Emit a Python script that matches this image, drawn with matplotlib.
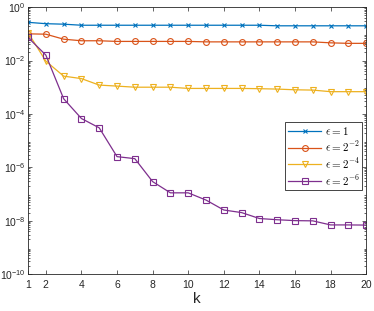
import matplotlib
matplotlib.use("Agg")
import matplotlib.pyplot as plt
import numpy as np
from matplotlib.ticker import FixedLocator, FuncFormatter, LogLocator, NullFormatter

plt.rcParams['font.family'] = ['Liberation Sans', 'DejaVu Sans']
plt.rcParams['mathtext.fontset'] = 'cm'

k = np.arange(1, 21)
err_eps1 = [0.27, 0.24, 0.23, 0.21, 0.21, 0.21, 0.21, 0.21, 0.21, 0.21,
            0.21, 0.21, 0.21, 0.21, 0.20, 0.20, 0.20, 0.20, 0.20, 0.20]
err_eps2 = [0.10, 0.097, 0.063, 0.055, 0.055, 0.052, 0.052, 0.052, 0.052, 0.052,
            0.050, 0.050, 0.050, 0.050, 0.050, 0.050, 0.050, 0.046, 0.044, 0.044]
err_eps4 = [0.11, 0.0095, 0.0026, 0.0021, 0.0012, 0.0011, 0.0010, 0.0010, 0.0010, 0.0009,
            0.0009, 0.0009, 0.0009, 0.00088, 0.00085, 0.0008, 0.00078, 0.00068, 0.00068, 0.00068]
err_eps6 = [0.073, 0.016, 3.7e-4, 6.7e-5, 3.0e-5, 2.5e-6, 2.1e-6, 2.9e-7, 1.1e-7, 1.1e-7,
            5.9e-8, 2.5e-8, 2.0e-8, 1.2e-8, 1.08e-8, 1.0e-8, 9.8e-9, 6.9e-9, 6.9e-9, 6.8e-9]
labels = [r'$\epsilon = 1$', r'$\epsilon = 2^{-2}$', r'$\epsilon = 2^{-4}$', r'$\epsilon = 2^{-6}$']
xticks = [1, 2, 4, 6, 8, 10, 12, 14, 16, 18, 20]

colors = ['#0072BD', '#D95319', '#EDB120', '#7E2F8E']
markers = ['x', 'o', 'v', 's']

fig = plt.figure(figsize=(3.74, 3.11), dpi=100)
ax = fig.add_axes([0.075, 0.119, 0.904, 0.858])

for y, c, m, lab in zip([err_eps1, err_eps2, err_eps4, err_eps6], colors, markers, labels):
    ax.semilogy(k, y, color=c, marker=m, markersize=4.2 if m != 'x' else 3.5,
                markerfacecolor='none', markeredgewidth=0.8, linewidth=0.9, label=lab)

ax.set_xlim(1, 20)
ax.set_ylim(1e-10, 1)
ax.xaxis.set_major_locator(FixedLocator(xticks))
ax.yaxis.set_major_locator(FixedLocator([1e-10, 1e-8, 1e-6, 1e-4, 1e-2, 1]))
ax.yaxis.set_minor_locator(LogLocator(base=10, subs=np.arange(2, 10), numticks=20))
ax.yaxis.set_minor_formatter(NullFormatter())
ax.yaxis.set_major_formatter(FuncFormatter(
    lambda v, p: r'$\mathregular{10^{%d}}$' % round(np.log10(v))))

ax.tick_params(which='both', direction='in', top=True, right=True, labelsize=7.5,
               colors='#262626', width=0.5)
ax.tick_params(which='major', length=3)
ax.tick_params(which='minor', length=1.5)
ax.tick_params(axis='x', pad=4)
ax.tick_params(axis='y', pad=2)
for s in ax.spines.values():
    s.set_linewidth(0.6)
    s.set_color('#262626')

ax.set_xlabel('k', fontsize=11, color='#262626', labelpad=2)

leg = ax.legend(loc='upper right', bbox_to_anchor=(0.988, 0.569), fontsize=8,
                fancybox=False, edgecolor='#262626', framealpha=1,
                handlelength=3.0, borderpad=0.25, labelspacing=0.2, handletextpad=0.3,
                borderaxespad=0)
leg.get_frame().set_linewidth(0.6)

fig.savefig('out.png', dpi=100)
